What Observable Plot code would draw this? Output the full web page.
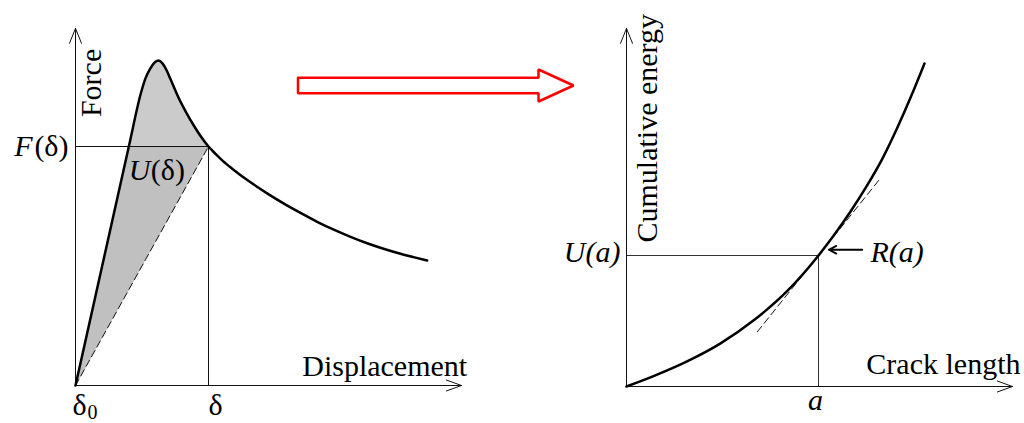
<!DOCTYPE html>
<html><head><meta charset="utf-8">
<script src="https://cdn.jsdelivr.net/npm/d3@7"></script>
<script src="https://cdn.jsdelivr.net/npm/@observablehq/plot@0.6"></script>
<style>
html,body{margin:0;padding:0;background:#fff;}
#wrap{position:relative;width:1024px;height:423px;overflow:hidden;background:#fff;}
#wrap svg{position:absolute;left:0;top:0;}
</style></head><body><div id="wrap"></div>
<script>
// ---- Left panel: force–displacement curve (units: δ = 1, F(δ) = 1)
const forceDisp = [0, 0.401, 0.493, 0.526, 0.564, 0.592, 0.622, 0.654, 0.684, 0.714, 0.752, 0.789, 0.835, 0.887, 0.940, 1.0,
                   1.053, 1.105, 1.190, 1.316, 1.441, 1.564, 1.692, 1.817, 1.942, 2.068, 2.193, 2.316, 2.444, 2.541, 2.644];
const forceVal  = [0, 1.0, 1.226, 1.285, 1.328, 1.350, 1.360, 1.348, 1.320, 1.282, 1.233, 1.188, 1.140, 1.090, 1.044, 1.0,
                   0.969, 0.941, 0.902, 0.850, 0.804, 0.762, 0.722, 0.685, 0.652, 0.622, 0.595, 0.572, 0.551, 0.537, 0.523];
const deltaIndex = 15;            // point (δ, F(δ))
const riseIndex = 1;              // rising branch crosses F(δ)
const leftAxisEnd = {x: 2.902, y: 1.494};

// ---- Right panel: cumulative energy vs crack length (units: a = 1, U(a) = 1)
const crackLen  = [0, 0.141, 0.318, 0.490, 0.661, 0.839, 1.0, 1.083, 1.167, 1.250, 1.333, 1.411, 1.484, 1.552];
const cumEnergy = [0, 0.079, 0.193, 0.329, 0.503, 0.731, 1.0, 1.160, 1.336, 1.527, 1.740, 1.977, 2.221, 2.466];
const tangentA = [0.681, 1.314];
const tangentU = [0.417, 1.574];
const rArrowA = [1.228, 1.054];
const rArrowU = [1.044, 1.044];
const rightAxisEnd = {x: 2.010, y: 2.733};

// ---- Middle block arrow (shape units)
const arrowX = [0, 0.873, 0.873, 1, 0.873, 0.873, 0, 0];
const arrowY = [0.741, 0.741, 1, 0.5, 0, 0.259, 0.259, 0.741];

// ---- Labels
const leftLabels = {yTitle: "Force", xTitle: "Displacement", F: "F", paren: "(δ)", U: "U", delta: "δ", delta0: "δ", sub0: "0"};
const rightLabels = {yTitle: "Cumulative energy", xTitle: "Crack length", U: "U(a)", R: "R(a)", a: "a"};

const serif = "Liberation Serif";
const fs = 30;
const base = {width: 1024, height: 423, margin: 0, style: {background: "transparent", overflow: "visible"}};
const wrap = document.getElementById("wrap");

// ===== Left panel =====
const curveL = forceDisp.map((d, i) => ({d, f: forceVal[i]}));
const shaded = curveL.slice(0, deltaIndex + 1);
const lowerTri = [curveL[0], curveL[riseIndex], curveL[deltaIndex]];
const dP = curveL[deltaIndex];

const left = Plot.plot({
  ...base,
  x: {domain: [0, 1], range: [75, 208], axis: null},
  y: {domain: [0, 1], range: [385, 146], axis: null},
  marks: [
    Plot.line(shaded, {x: "d", y: "f", curve: "monotone-x", fill: "#cbcbcb", stroke: "none"}),
    Plot.line(lowerTri, {x: "d", y: "f", fill: "#c0c0c0", stroke: "none"}),
    Plot.ruleY([dP.f], {x1: 0, x2: dP.d, stroke: "#111", strokeWidth: 1}),
    Plot.ruleX([dP.d], {y1: 0, y2: dP.f, stroke: "#111", strokeWidth: 1}),
    Plot.line([curveL[0], dP], {x: "d", y: "f", stroke: "#111", strokeWidth: 1, strokeDasharray: "7,4"}),
    Plot.arrow([0], {x1: 0, y1: 0, x2: 0, y2: leftAxisEnd.y, stroke: "#111", strokeWidth: 1, headLength: 24, headAngle: 44}),
    Plot.arrow([0], {x1: 0, y1: 0, x2: leftAxisEnd.x, y2: 0, stroke: "#111", strokeWidth: 1, headLength: 24, headAngle: 40}),
    Plot.line(curveL, {x: "d", y: "f", curve: "monotone-x", stroke: "#000", strokeWidth: 2.5}),
    Plot.text([leftLabels.yTitle], {x: 0, y: 1.266, text: d => d, rotate: -90, dx: 16, fontFamily: serif, fontSize: fs, textAnchor: "middle"}),
    Plot.text([leftLabels.xTitle], {x: 2.945, y: 0, text: d => d, dy: -19, fontFamily: serif, fontSize: fs, textAnchor: "end"}),
    Plot.text([leftLabels.paren], {x: 0, y: dP.f, text: d => d, dx: -7, fontFamily: serif, fontSize: fs, textAnchor: "end"}),
    Plot.text([leftLabels.F], {x: 0, y: dP.f, text: d => d, dx: -43, fontFamily: serif, fontSize: fs, fontStyle: "italic", textAnchor: "end"}),
    Plot.text([leftLabels.U], {x: curveL[riseIndex].d, y: dP.f, text: d => d, dx: 0, dy: 24, fontFamily: serif, fontSize: fs, fontStyle: "italic", textAnchor: "start"}),
    Plot.text([leftLabels.paren], {x: curveL[riseIndex].d, y: dP.f, text: d => d, dx: 22, dy: 24, fontFamily: serif, fontSize: fs, textAnchor: "start"}),
    Plot.text([leftLabels.delta0], {x: 0, y: 0, text: d => d, dx: -3, dy: 20, fontFamily: serif, fontSize: fs, textAnchor: "start"}),
    Plot.text([leftLabels.sub0], {x: 0, y: 0, text: d => d, dx: 12, dy: 27, fontFamily: serif, fontSize: 20, textAnchor: "start"}),
    Plot.text([leftLabels.delta], {x: dP.d, y: 0, text: d => d, dx: 0, dy: 20, fontFamily: serif, fontSize: fs, textAnchor: "start"})
  ]
});
wrap.appendChild(left);

// ===== Middle arrow =====
const arrowPts = arrowX.map((x, i) => ({x, y: arrowY[i]}));
const mid = Plot.plot({
  ...base,
  x: {domain: [0, 1], range: [297.5, 573], axis: null},
  y: {domain: [0, 1], range: [101, 69], axis: null},
  marks: [
    Plot.line(arrowPts, {x: "x", y: "y", fill: "white", stroke: "#ff0000", strokeWidth: 2.5, strokeLinejoin: "miter"})
  ]
});
wrap.appendChild(mid);

// ===== Right panel =====
const curveR = crackLen.map((a, i) => ({a, u: cumEnergy[i]}));
const tangent = tangentA.map((a, i) => ({a, u: tangentU[i]}));
const right = Plot.plot({
  ...base,
  x: {domain: [0, 1], range: [626, 818], axis: null},
  y: {domain: [0, 1], range: [386, 255], axis: null},
  marks: [
    Plot.ruleY([1], {x1: 0, x2: 1, stroke: "#333", strokeWidth: 1}),
    Plot.ruleX([1], {y1: 0, y2: 1, stroke: "#333", strokeWidth: 1}),
    Plot.line(tangent, {x: "a", y: "u", stroke: "#111", strokeWidth: 1, strokeDasharray: "7,4"}),
    Plot.arrow([0], {x1: 0, y1: 0, x2: 0, y2: rightAxisEnd.y, stroke: "#111", strokeWidth: 1, headLength: 24, headAngle: 44}),
    Plot.arrow([0], {x1: 0, y1: 0, x2: rightAxisEnd.x, y2: 0, stroke: "#111", strokeWidth: 1, headLength: 24, headAngle: 40}),
    Plot.line(curveR, {x: "a", y: "u", curve: "monotone-x", stroke: "#000", strokeWidth: 2.5}),
    Plot.arrow([0], {x1: rArrowA[0], y1: rArrowU[0], x2: rArrowA[1], y2: rArrowU[1], stroke: "#000", strokeWidth: 1.8, headLength: 7, headAngle: 55}),
    Plot.text([rightLabels.yTitle], {x: 0, y: 1.099, text: d => d, rotate: -90, dx: 20.5, fontFamily: serif, fontSize: fs, textAnchor: "start"}),
    Plot.text([rightLabels.xTitle], {x: 2.052, y: 0, text: d => d, dy: -22, fontFamily: serif, fontSize: fs, textAnchor: "end"}),
    Plot.text([rightLabels.U], {x: 0, y: 1, text: d => d, dx: -6, dy: -3, fontFamily: serif, fontSize: fs, fontStyle: "italic", textAnchor: "end"}),
    Plot.text([rightLabels.R], {x: 1.271, y: 1, text: d => d, dy: -3, fontFamily: serif, fontSize: fs, fontStyle: "italic", textAnchor: "start"}),
    Plot.text([rightLabels.a], {x: 1, y: 0, text: d => d, dx: -3, dy: 14, fontFamily: serif, fontSize: fs, fontStyle: "italic", textAnchor: "middle"})
  ]
});
wrap.appendChild(right);
</script></body></html>
